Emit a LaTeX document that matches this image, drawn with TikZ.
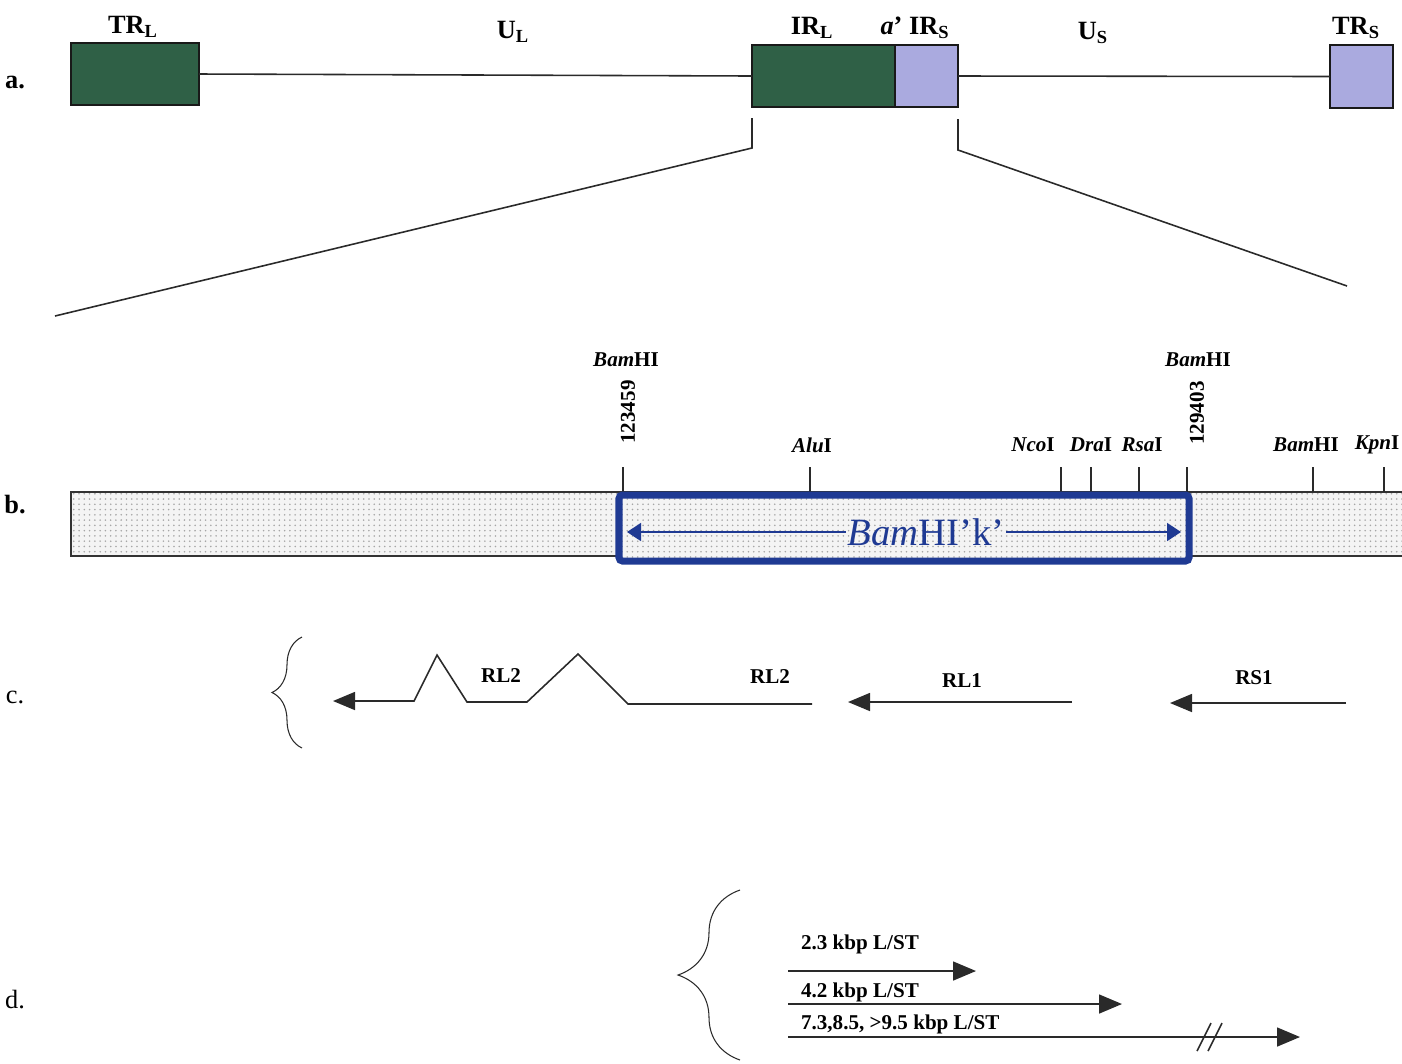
\documentclass[tikz,border=0pt]{standalone}
\usepackage{fontspec}
\setmainfont{Liberation Serif}
\usepackage{tikz}
\usetikzlibrary{arrows.meta,patterns,decorations.pathreplacing}
\definecolor{irgreen}{HTML}{2F6046}
\definecolor{irlilac}{HTML}{AAAADF}
\definecolor{kblue}{HTML}{1F3A93}
\definecolor{mapline}{HTML}{2A2A2A}
\newcommand{\pxl}{0.02cm}
\tikzset{
  rowlbl/.style={font=\fontsize{15}{17}\selectfont\bfseries},
  rowlblthin/.style={font=\fontsize{15}{17}\selectfont},
  site/.style={font=\fontsize{12}{14}\selectfont\bfseries},
  segbox/.style={draw=black!90, line width=1.6pt, outer sep=0pt, anchor=north west, minimum height=62*\pxl},
  dotfill/.style={preaction={fill=gray!9}, pattern=dots, pattern color=gray!70},
  mapline/.style={draw=mapline, line width=0.9pt},
  tx/.style={draw=mapline, line width=0.9pt, -{Triangle[length=0.44cm,width=0.36cm]}},
  bigbrace/.style={decorate, draw=mapline, line width=0.6pt},
}

\begin{document}
\begin{tikzpicture}[x=\pxl, y=-\pxl]
  \useasboundingbox (0,0) rectangle (1402,1063);
  % a. genome
  \node[rowlbl] (la) at (15,82) {a.};
  \node[segbox, fill=irgreen, minimum width=128*\pxl] (trl) at (71,43) {};
  \node[segbox, fill=irgreen, minimum width=143*\pxl] (irl) at (752,45) {};
  \node[segbox, fill=irlilac, minimum width=63*\pxl] (irs) at (895,45) {};
  \node[segbox, fill=irlilac, minimum width=63*\pxl, minimum height=63*\pxl] (trs) at (1330,45) {};
  \draw[mapline] (trl.east) -- (irl.west);
  \draw[mapline] (irs.east) -- (trs.west);
  \node[rowlbl] (trllab) at (133,27) {TR\textsubscript{L}};
  \node[rowlbl] (ullab) at (513,32) {U\textsubscript{L}};
  \node[rowlbl] (irllab) at (812,28) {IR\textsubscript{L}};
  \node[rowlbl] (irslab) at (915,28) {\textit{a}' IR\textsubscript{S}};
  \node[rowlbl] (uslab) at (1093,33) {U\textsubscript{S}};
  \node[rowlbl] (trslab) at (1356,28) {TR\textsubscript{S}};
  % zoom lines
  \coordinate (zl) at (55,316);
  \coordinate (zr) at (1347,286);
  \draw[mapline] ([yshift=-0.22cm]irl.south west) -- ++(0,30) -- (zl);
  \draw[mapline] ([yshift=-0.24cm]irs.south east) -- ++(0,31) -- (zr);

  % b. BamHI k region
  \node[rowlbl] (lb) at (15,505) {b.};
  \node[dotfill, draw=black!80, line width=1pt, outer sep=0pt, anchor=north west,
    minimum width=1345*\pxl, minimum height=64*\pxl] (bar) at (71,492) {};
  \foreach \x [count=\i] in {623,810,1061,1091,1139,1187,1313,1384} {
    \coordinate (s\i) at (\x,467);
    \draw[mapline] (s\i) -- (s\i |- bar.north);
  }
  \node[dotfill, draw=kblue, line width=4pt, rounded corners=2pt, outer sep=0pt, anchor=north west,
    minimum width=570*\pxl, minimum height=66*\pxl] (kbox) at (619,495) {};
  \node[font=\fontsize{22}{24}\selectfont, text=kblue, inner sep=1pt] (klab) at (926,532) {\textit{Bam}HI'k'};
  \coordinate (kl) at (627,532);
  \coordinate (kr) at (1181,532);
  \draw[kblue, line width=1pt, -{Triangle[length=0.28cm,width=0.36cm]}] (klab.west) -- (kl);
  \draw[kblue, line width=1pt, -{Triangle[length=0.28cm,width=0.36cm]}] (klab.east) -- (kr);
  \node[site] (bam1) at (626,360) {\textit{Bam}HI};
  \node[site, rotate=90] (pos1) at (628,412) {123459};
  \node[site] (bam2) at (1198,360) {\textit{Bam}HI};
  \node[site, rotate=90] (pos2) at (1197,413) {129403};
  \foreach \x/\e/\n in {812/Alu/alu, 1033/Nco/nco, 1091/Dra/dra, 1142/Rsa/rsa, 1377/Kpn/kpn} {
    \node[site] (\n) at (\x,445) {\textit{\e}I};
  }
  \node[site] (bam3) at (1306,445) {\textit{Bam}HI};

  % c. transcripts
  \node[rowlblthin] (lc) at (15,697) {c.};
  \draw[bigbrace, decoration={brace, amplitude=0.6cm}] (302,748) -- (302,637);
  \coordinate (rl2s) at (812,704);
  \coordinate (rl2e) at (333,701);
  \draw[tx] (rl2s) -- (628,704) -- (578,654) -- (527,702) -- (467,702) -- (437,655) -- (414,701) -- (rl2e);
  \node[site] (rl2a) at (501,676) {RL2};
  \node[site] (rl2b) at (770,677) {RL2};
  \coordinate (rl1s) at (1072,702);
  \coordinate (rl1e) at (848,702);
  \draw[tx] (rl1s) -- (rl1e);
  \node[site] (rl1) at (962,681) {RL1};
  \coordinate (rs1s) at (1346,703);
  \coordinate (rs1e) at (1170,703);
  \draw[tx] (rs1s) -- (rs1e);
  \node[site] (rs1) at (1254,678) {RS1};

  % d. latency transcripts
  \node[rowlblthin] (ld) at (15,1000) {d.};
  \draw[bigbrace, decoration={brace, amplitude=1.24cm}] (740,1060) -- (740,890);
  \foreach \y/\xe/\ly/\t [count=\i] in {971/976/944/{2.3 kbp L/ST}, 1004/1122/992/{4.2 kbp L/ST}, 1037/1300/1024/{7.3,8.5, >9.5 kbp L/ST}} {
    \coordinate (d\i s) at (788,\y);
    \coordinate (d\i e) at (\xe,\y);
    \draw[tx, -{Triangle[length=0.46cm,width=0.38cm]}] (d\i s) -- (d\i e);
    \node[site, anchor=west, inner sep=1pt] (dl\i) at (799,\ly) {\t};
  }
  \draw[mapline] (1197,1051) -- (1211,1023);
  \draw[mapline] (1208,1051) -- (1222,1023);
\end{tikzpicture}
\end{document}
